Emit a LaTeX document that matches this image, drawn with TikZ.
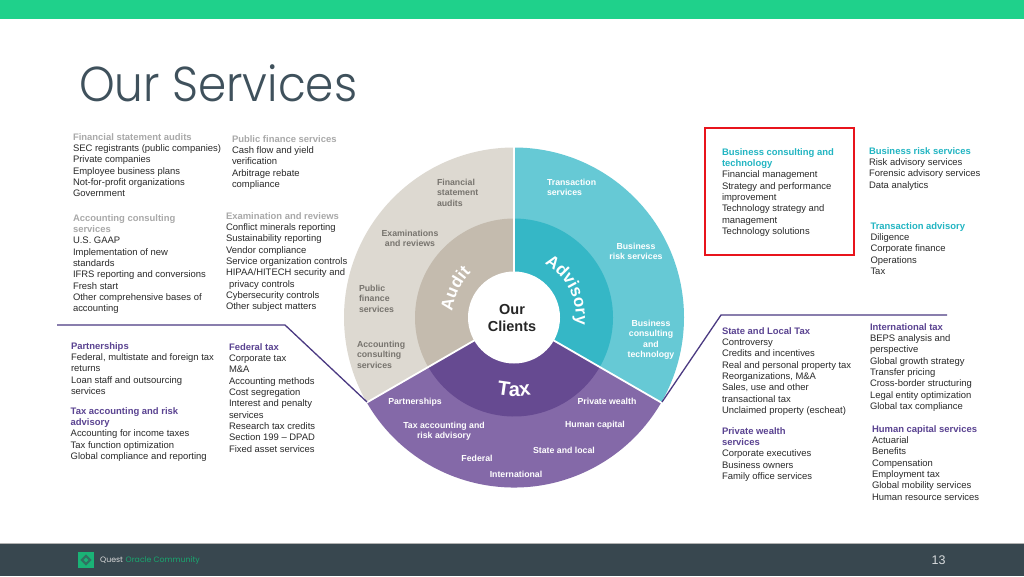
\documentclass[tikz,border=0pt]{standalone}
\usepackage{fontspec}
\setmainfont{Liberation Sans}
\newfontfamily\titlefont{Poppins Light}
\newfontfamily\footfont{Poppins}
\usetikzlibrary{decorations.text}
\definecolor{topgreen}{HTML}{1FD18B}
\definecolor{footbar}{HTML}{38474F}
\definecolor{titlecol}{HTML}{3F515C}
\definecolor{headgrey}{HTML}{A9A9A9}
\definecolor{headteal}{HTML}{22B5C2}
\definecolor{headpurple}{HTML}{5A4391}
\definecolor{bodytext}{HTML}{2A2A2A}
\definecolor{auditout}{HTML}{DDD9D1}
\definecolor{auditin}{HTML}{C4BBAE}
\definecolor{advout}{HTML}{66C9D5}
\definecolor{advin}{HTML}{35B7C6}
\definecolor{taxout}{HTML}{8469A8}
\definecolor{taxin}{HTML}{664A91}
\definecolor{leader}{HTML}{4B3A82}
\definecolor{redbox}{HTML}{E8141C}
\definecolor{ringtext}{HTML}{77746E}
\newcommand{\hd}[2]{{\color{#1}\bfseries #2}}
\tikzset{
  textblock/.style={anchor=north west,inner sep=0pt,outer sep=0pt,align=left,text=bodytext,
    font=\fontsize{9.45}{11.33}\selectfont},
  ringlabel/.style={inner sep=0pt,outer sep=0pt,font=\fontsize{8.75}{10.3}\selectfont\bfseries},
  ringleft/.style={ringlabel,anchor=north west,align=left},
  ringcenter/.style={ringlabel,anchor=north,align=center},
  leaderline/.style={draw=leader,line width=1.3pt},
  curved/.style 2 args={decorate,decoration={text along path,text align=center,
     text={|\fontsize{#1}{#1}\selectfont\bfseries\color{white}|#2}}}
}
\begin{document}
\begin{tikzpicture}[x=1pt,y=-1pt]
\useasboundingbox (0,0) rectangle (1024,576);
\fill[white] (0,0) rectangle (1024,576);
\fill[topgreen] (0,0) rectangle (1024,19);
\fill[footbar] (0,544) rectangle (1024,576);
\fill[black!30] (0,543.3) rectangle (1024,544);
\node[anchor=base west,inner sep=0pt,text=titlecol,xscale=0.925,font=\titlefont\fontsize{49}{49}\selectfont] (title) at (79,101.5) {Our Services};

% wheel
\begin{scope}[x=1pt,y=1pt,shift={(514pt,-317.5pt)}]
\fill[auditout] (0,0) -- (90:170) arc[start angle=90,end angle=210,radius=170] -- cycle;
\fill[advout] (0,0) -- (90:170) arc[start angle=90,end angle=-30,radius=170] -- cycle;
\fill[taxout] (0,0) -- (210:170) arc[start angle=210,end angle=330,radius=170] -- cycle;
\fill[auditin] (0,0) -- (90:99) arc[start angle=90,end angle=210,radius=99] -- cycle;
\fill[advin] (0,0) -- (90:99) arc[start angle=90,end angle=-30,radius=99] -- cycle;
\fill[taxin] (0,0) -- (210:99) arc[start angle=210,end angle=330,radius=99] -- cycle;
\draw[white,line width=1.8pt] (0,0) -- (90:171);
\draw[white,line width=1.8pt] (0,0) -- (210:171);
\draw[white,line width=1.8pt] (0,0) -- (330:171);
\fill[white] (0,0) circle (46);
\path[curved={17}{Audit}] (189:62) arc[start angle=189,end angle=119,radius=62];
\path[curved={17}{Advisory}] (77:62) arc[start angle=77,end angle=-23,radius=62];
\path[curved={20}{Tax}] (240:79) arc[start angle=240,end angle=300,radius=79];
\end{scope}
\node[inner sep=0pt,align=center,font=\fontsize{14.5}{17}\selectfont\bfseries,text=black!85] (clients) at (512,318.5) {Our\\Clients};

% ring labels
\begin{scope}[yshift=-1.2pt]
\node[ringleft,text=ringtext] (r1) at (437,178) {Financial\\statement\\audits};
\node[ringleft,text=white] (r2) at (547,178) {Transaction\\services};
\node[ringcenter,text=ringtext] (r3) at (410,229) {Examinations\\and reviews};
\node[ringcenter,text=white] (r4) at (636,242) {Business\\risk services};
\node[ringleft,text=ringtext] (r5) at (359,284) {Public\\finance\\services};
\node[ringleft,text=ringtext] (r6) at (357,340) {Accounting\\consulting\\services};
\node[ringcenter,text=white] (r7) at (651,319) {Business\\consulting\\and\\technology};
\node[ringcenter,text=white] (r8) at (415,397) {Partnerships};
\node[ringcenter,text=white] (r9) at (607,397) {Private wealth};
\node[ringcenter,text=white] (r10) at (444,421) {Tax accounting and\\risk advisory};
\node[ringcenter,text=white] (r11) at (595,420) {Human capital};
\node[ringcenter,text=white] (r12) at (564,446) {State and local};
\node[ringcenter,text=white] (r13) at (477,454) {Federal};
\node[ringcenter,text=white] (r14) at (516,470) {International};
\end{scope}

% leaders
\coordinate (la) at (57,325);
\coordinate (lb) at (285,325);
\coordinate (lc) at (367,402);
\coordinate (ra) at (947,315);
\coordinate (rb) at (721,315);
\coordinate (rc) at (662,402);
\draw[leaderline] (la) -- (lb) -- (lc);
\draw[leaderline] (ra) -- (rb) -- (rc);

% red box
\node[draw=redbox,line width=2pt,inner sep=0pt,minimum width=149pt,minimum height=127pt,anchor=north west] (focus) at (704,127) {};

% text blocks
\begin{scope}[yshift=-2.8pt]
\node[textblock] (a) at (73,130.5) {\hd{headgrey}{Financial statement audits}\\SEC registrants (public companies)\\Private companies\\Employee business plans\\Not-for-profit organizations\\Government};
\node[textblock] (b) at (232,132.5) {\hd{headgrey}{Public finance services}\\Cash flow and yield\\verification\\Arbitrage rebate\\compliance};
\node[textblock] (c) at (73,211.5) {\hd{headgrey}{Accounting consulting}\\\hd{headgrey}{services}\\U.S. GAAP\\Implementation of new\\standards\\IFRS reporting and conversions\\Fresh start\\Other comprehensive bases of\\accounting};
\node[textblock] (d) at (226,209.5) {\hd{headgrey}{Examination and reviews}\\Conflict minerals reporting\\Sustainability reporting\\Vendor compliance\\Service organization controls\\HIPAA/HITECH security and\\\hspace*{3pt}privacy controls\\Cybersecurity controls\\Other subject matters};
\node[textblock] (e) at (71,339.5) {\hd{headpurple}{Partnerships}\\Federal, multistate and foreign tax\\returns\\Loan staff and outsourcing\\services};
\node[textblock] (f) at (70.7,404.5) {\hd{headpurple}{Tax accounting and risk}\\\hd{headpurple}{advisory}\\Accounting for income taxes\\Tax function optimization\\Global compliance and reporting};
\node[textblock] (g) at (229,340.5) {\hd{headpurple}{Federal tax}\\Corporate tax\\M\&A\\Accounting methods\\Cost segregation\\Interest and penalty\\services\\Research tax credits\\Section 199 – DPAD\\Fixed asset services};
\node[textblock] (h) at (722,145.5) {\hd{headteal}{Business consulting and}\\\hd{headteal}{technology}\\Financial management\\Strategy and performance\\improvement\\Technology strategy and\\management\\Technology solutions};
\node[textblock] (i) at (869,144.5) {\hd{headteal}{Business risk services}\\Risk advisory services\\Forensic advisory services\\Data analytics};
\node[textblock] (j) at (870.5,219.5) {\hd{headteal}{Transaction advisory}\\Diligence\\Corporate finance\\Operations\\Tax};
\node[textblock] (k) at (722,324.5) {\hd{headpurple}{State and Local Tax}\\Controversy\\Credits and incentives\\Real and personal property tax\\Reorganizations, M\&A\\Sales, use and other\\transactional tax\\Unclaimed property (escheat)};
\node[textblock] (l) at (870,320.5) {\hd{headpurple}{International tax}\\BEPS analysis and\\perspective\\Global growth strategy\\Transfer pricing\\Cross-border structuring\\Legal entity optimization\\Global tax compliance};
\node[textblock] (m) at (722,424.5) {\hd{headpurple}{Private wealth}\\\hd{headpurple}{services}\\Corporate executives\\Business owners\\Family office services};
\node[textblock] (n) at (872,422.5) {\hd{headpurple}{Human capital services}\\Actuarial\\Benefits\\Compensation\\Employment tax\\Global mobility services\\Human resource services};
\end{scope}

% footer
\fill[topgreen!85!black] (78,552) rectangle (94,568);
\fill[footbar!70!topgreen,rotate around={45:(86,560)}] (82,556) rectangle (90,564);
\fill[topgreen!85!black,rotate around={45:(86,560)}] (84.3,558.3) rectangle (87.7,561.7);
\node[anchor=base west,inner sep=0pt,font=\footfont\fontsize{7.8}{8}\selectfont,text=white!85!black] (fq) at (100,562.7) {Quest};
\node[anchor=base west,inner sep=0pt,font=\footfont\fontsize{7.8}{8}\selectfont,text=topgreen!80!black] (fo) at (125.5,562.7) {Oracle Community};
\node[anchor=center,inner sep=0pt,font=\fontsize{12.5}{13}\selectfont,text=white!80!footbar] (pg) at (938.5,560.5) {13};
\end{tikzpicture}
\end{document}
